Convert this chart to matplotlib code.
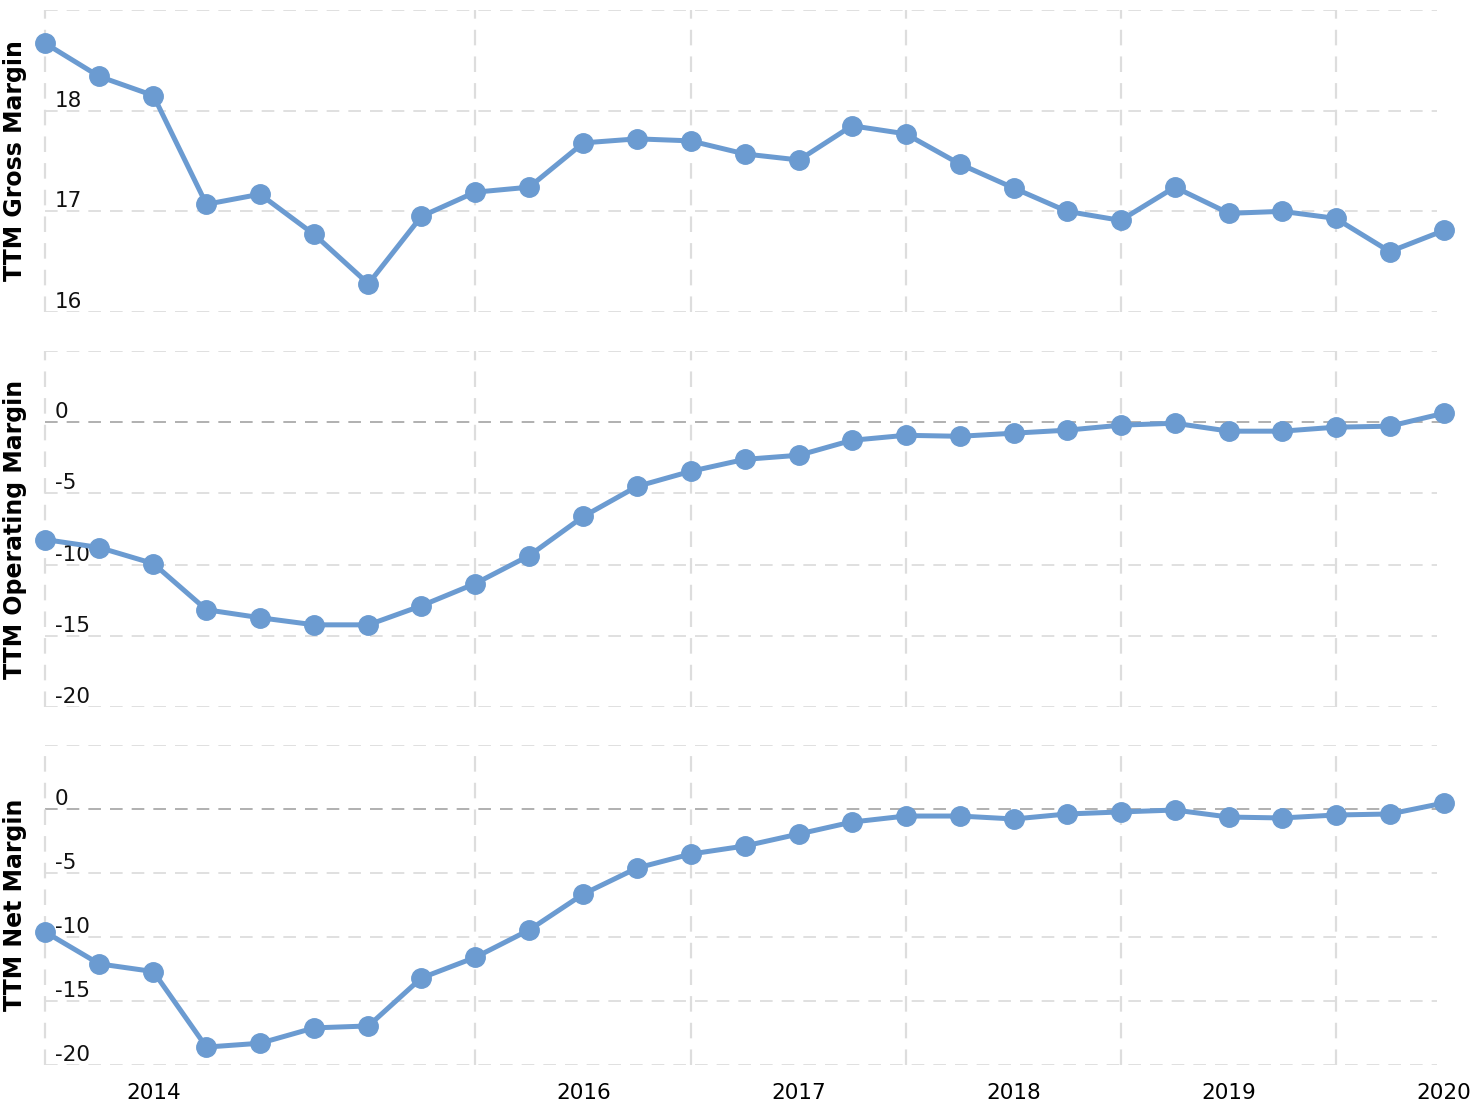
import pandas as pd
import matplotlib.pyplot as plt
import matplotlib.transforms as mtransforms

# quarterly TTM margins (%)
quarters = pd.date_range("2013-06-30", "2019-12-31", freq="QE")

gross_margin = [18.67, 18.34, 18.15, 17.07, 17.17, 16.77, 16.28, 16.95, 17.19,
                17.24, 17.68, 17.72, 17.70, 17.57, 17.51, 17.85, 17.77, 17.47,
                17.23, 17.00, 16.91, 17.24, 16.98, 17.00, 16.93, 16.60, 16.81]
operating_margin = [-8.24, -8.80, -9.93, -13.17, -13.73, -14.23, -14.23, -12.89,
                    -11.34, -9.37, -6.62, -4.51, -3.45, -2.61, -2.32, -1.27, -0.92,
                    -0.99, -0.77, -0.56, -0.21, -0.07, -0.63, -0.63, -0.35, -0.28, 0.63]
net_margin = [-9.6, -12.1, -12.7, -18.6, -18.3, -17.1, -16.95, -13.2, -11.6, -9.45,
              -6.64, -4.61, -3.52, -2.89, -1.95, -1.02, -0.55, -0.55, -0.78, -0.39,
              -0.23, -0.08, -0.63, -0.70, -0.47, -0.39, 0.47]

year_ticks = pd.to_datetime(["2013-12-31", "2015-12-31", "2016-12-31",
                             "2017-12-31", "2018-12-31", "2019-12-31"])
year_labels = ["2014", "2016", "2017", "2018", "2019", "2020"]
grid_dates = pd.to_datetime(["2013-06-30", "2015-06-30", "2016-06-30",
                             "2017-06-30", "2018-06-30", "2019-06-30"])

line_color = "#6b9bd1"
W, H = 1478, 1108

fig = plt.figure(figsize=(14.78, 11.08), dpi=100)

panels = [
    ("TTM Gross Margin", gross_margin, (16, 19), [16, 17, 18, 19], [16, 17, 18], 10, 312),
    ("TTM Operating Margin", operating_margin, (-20, 5), [-20, -15, -10, -5, 0, 5],
     [-20, -15, -10, -5, 0], 351, 707),
    ("TTM Net Margin", net_margin, (-20, 5), [-20, -15, -10, -5, 0, 5],
     [-20, -15, -10, -5, 0], 745, 1065),
]

x_left, x_right = 45, 1444

for i, (name, vals, ylim, grid_vals, label_vals, top, bot) in enumerate(panels):
    ax = fig.add_axes([x_left / W, 1 - bot / H, (x_right - x_left) / W, (bot - top) / H])
    ax.set_xlim(quarters[0], quarters[-1])
    ax.set_ylim(*ylim)
    for s in ax.spines.values():
        s.set_visible(False)

    # horizontal grid
    for v in grid_vals:
        if v == 0:
            ax.axhline(0, color="#aaaaaa", lw=1.3, ls=(0, (7, 5)), zorder=1)
        else:
            ax.axhline(v, color="#dddddd", lw=1.3, ls=(0, (7, 5)), zorder=1,
                       xmax=0.995)
    # vertical grid
    for d in grid_dates:
        ax.axvline(d, color="#dddddd", lw=1.6, ls=(0, (7, 5)), zorder=1, clip_on=False)

    ax.plot(quarters, vals, "-o", color=line_color, lw=3.6, ms=14,
            clip_on=False, zorder=3)

    # y labels sitting inside the plot above the gridlines
    trans = mtransforms.blended_transform_factory(ax.transAxes, ax.transData)
    for v in label_vals:
        ax.text(0.007, v, str(v), transform=trans, fontsize=15.5, ha="left",
                va="bottom", color="#111111", zorder=2)

    ax.set_yticks([])
    ax.set_xticks(year_ticks)
    if i == 2:
        ax.set_xticklabels(year_labels, fontsize=15.5)
        ax.tick_params(axis="x", length=0, pad=13)
    else:
        ax.set_xticklabels([])
        ax.tick_params(axis="x", length=0)

    fig.text(15 / W, 1 - (top + bot) / 2 / H, name, rotation=90, fontsize=17,
             fontweight="bold", ha="center", va="center")

fig.savefig("out.png", dpi=100)
